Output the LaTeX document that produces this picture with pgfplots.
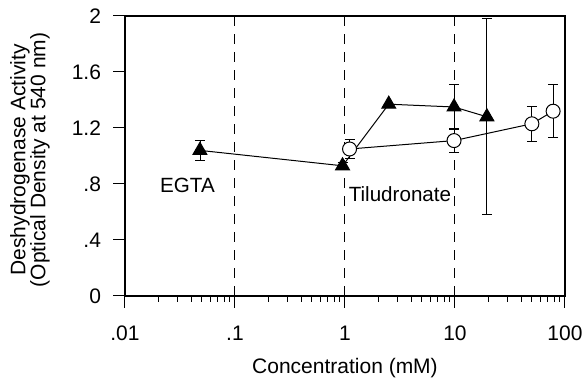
\documentclass[border=0pt]{standalone}
\usepackage{pgfplots}
\pgfplotsset{compat=1.18}
\usepackage{fontspec}
\setmainfont{Liberation Sans}
\begin{document}
\begin{tikzpicture}
\useasboundingbox (-62.5pt,-43.5pt) rectangle (229.5pt,148pt);
\begin{axis}[
  at={(0,0)}, anchor=south west,
  scale only axis, width=220pt, height=140pt,
  xmode=log, xmin=0.01, xmax=100, ymin=0, ymax=2,
  xtick={0.01,0.1,1,10,100}, xticklabels={.01,.1,1,10,100},
  ytick={0,0.4,0.8,1.2,1.6,2}, yticklabels={0,.4,.8,1.2,1.6,2},
  /pgf/number format/assume math mode=true,
  font=\fontsize{10.3}{11}\selectfont,
  tick label style={font=\fontsize{10.5}{11}\selectfont},
  xtick pos=bottom, ytick pos=left,
  tick align=outside,
  major tick length=6pt, minor tick length=3pt,
  xticklabel style={yshift=-5.5pt},
  yticklabel style={xshift=-2.5pt},
  axis line style={line width=0.6pt},
  tick style={black, line width=0.5pt},
  xlabel={Concentration (mM)},
  xlabel style={font=\fontsize{10.5}{11}\selectfont, at={(axis description cs:0.5,-0.257)}, anchor=center},
  ylabel={Deshydrogenase Activity\\(Optical Density at 540 nm)},
  ylabel style={align=center, font=\fontsize{10.5}{10}\selectfont, at={(axis description cs:-0.216,0.486)}, anchor=center},
]
\addplot[black, line width=0.5pt, dash pattern=on 5pt off 4pt] coordinates {(0.1,0) (0.1,2)};
\addplot[black, line width=0.5pt, dash pattern=on 5pt off 4pt] coordinates {(1,0) (1,2)};
\addplot[black, line width=0.5pt, dash pattern=on 5pt off 4pt] coordinates {(10,0) (10,2)};
% EGTA (triangles)
\addplot[black, line width=0.5pt, mark=triangle*, mark size=4pt, mark options={solid, fill=black},
  error bars/.cd, y dir=both, y explicit, error mark=-,
  error mark options={rotate=90, mark size=2.5pt, line width=0.5pt}]
  coordinates {
  (0.048,1.04) +- (0,0.07)
  (0.95,0.93) +- (0,0.02)
  (2.5,1.37) +- (0,0)
  (9.8,1.35) +- (0,0.16)
  (19.5,1.28) +- (0,0.70)
  };
% Tiludronate (circles)
\addplot[black, line width=0.5pt, mark=*, mark size=3.5pt, mark options={solid, fill=white},
  error bars/.cd, y dir=both, y explicit, error mark=-,
  error mark options={rotate=90, mark size=2.5pt, line width=0.5pt}]
  coordinates {
  (1.1,1.05) +- (0,0.065)
  (9.8,1.11) +- (0,0.085)
  (50,1.23) +- (0,0.125)
  (78,1.32) +- (0,0.19)
  };
\node at (axis cs:0.037,0.79) {EGTA};
\node at (axis cs:3.16,0.73) {Tiludronate};
\end{axis}
\end{tikzpicture}
\end{document}
